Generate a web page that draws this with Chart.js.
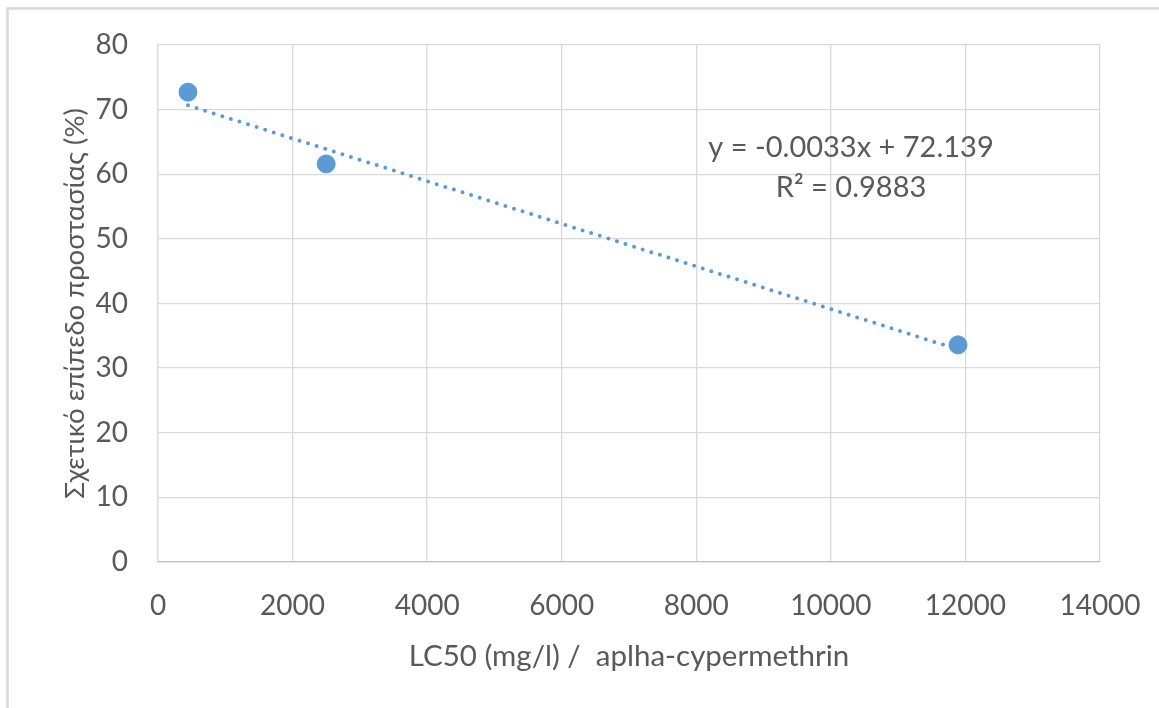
<!DOCTYPE html>
<html>
<head>
<meta charset="utf-8">
<script src="https://cdn.jsdelivr.net/npm/chart.js@4/dist/chart.umd.min.js"></script>
<style>
  html, body { margin: 0; padding: 0; background: #fff; }
  #wrap { position: relative; width: 1159px; height: 708px; }
</style>
</head>
<body>
<div id="wrap"><canvas id="chart"></canvas></div>
<script>
// values
const lc50 = [445, 2500, 11890];
const protection = [72.7, 61.6, 33.6];
// excel linear trendline end points (y = -0.0033x + 72.139)
const trendX = [445, 11890];
const trendY = [70.67, 32.9];
const xTicks = [0, 2000, 4000, 6000, 8000, 10000, 12000, 14000];
const yTicks = [0, 10, 20, 30, 40, 50, 60, 70, 80];
const eqLines = ["y = -0.0033x + 72.139", "R² = 0.9883"];

const blue = "#5b9bd5";
const grey = "#595959";
const fontFam = "Lato, 'Noto Sans', sans-serif";

const frame = {
    id: "frame",
    beforeDraw(chart) {
        const ctx = chart.ctx;
        ctx.save();
        ctx.strokeStyle = "#d9d9d9";
        ctx.lineWidth = 2.5;
        ctx.strokeRect(7.5, 8.5, 1170, 720);
        ctx.restore();
    },
    afterDatasetsDraw(chart) {
        const ctx = chart.ctx;
        const x = chart.scales.x.getPixelForValue(10300);
        const y1 = chart.scales.y.getPixelForValue(64.1);
        const y2 = chart.scales.y.getPixelForValue(58.0);
        ctx.save();
        ctx.fillStyle = grey;
        ctx.font = "29px " + fontFam;
        ctx.textAlign = "center";
        ctx.textBaseline = "middle";
        ctx.fillText(eqLines[0], x, y1);
        ctx.fillText(eqLines[1], x, y2);
        ctx.restore();
    }
};

const $chart = document.getElementById("chart");
new Chart($chart.getContext("2d"), {
    type: "scatter",
    data: {
        datasets: [
            {
                label: "data",
                data: lc50.map((v, i) => ({ x: v, y: protection[i] })),
                backgroundColor: blue,
                borderColor: blue,
                pointRadius: 9,
                pointHoverRadius: 9,
                order: 1,
            },
            {
                label: "trend",
                type: "line",
                data: trendX.map((v, i) => ({ x: v, y: trendY[i] })),
                borderColor: blue,
                borderWidth: 4,
                borderDash: [0, 9],
                borderCapStyle: "round",
                pointRadius: 0,
                fill: false,
                order: 2,
            },
        ],
    },
    options: {
        responsive: true,
        maintainAspectRatio: false,
        animation: false,
        layout: { padding: { left: 0, right: 59, top: 45, bottom: 0 } },
        plugins: {
            legend: { display: false },
            tooltip: { enabled: false },
        },
        scales: {
            x: {
                type: "linear",
                min: 0,
                max: 14000,
                afterBuildTicks: (s) => { s.ticks = xTicks.map(v => ({ value: v })); },
                afterFit: (s) => {
                    s.height = 146;
                    s.paddingLeft = 0;
                    s.paddingRight = 0;
                },
                grid: { color: "#d9d9d9", lineWidth: 1.3, drawTicks: false },
                border: { color: "#bfbfbf", width: 1.3 },
                ticks: {
                    color: grey,
                    font: { family: fontFam, size: 28 },
                    padding: 27,
                    maxRotation: 0,
                    autoSkip: false,
                    callback: (v) => String(v),
                },
                title: {
                    display: true,
                    text: "LC50 (mg/l) /  aplha-cypermethrin",
                    color: grey,
                    font: { family: fontFam, size: 29.5 },
                    padding: { top: 34, bottom: 34 },
                },
            },
            y: {
                type: "linear",
                min: 0,
                max: 80,
                afterBuildTicks: (s) => { s.ticks = yTicks.map(v => ({ value: v })); },
                afterFit: (s) => {
                    s.width = 158;
                    s.paddingTop = 0;
                    s.paddingBottom = 0;
                },
                grid: { color: "#d9d9d9", lineWidth: 1.3, drawTicks: false },
                border: { color: "#d9d9d9", width: 1.3 },
                ticks: {
                    color: grey,
                    font: { family: fontFam, size: 28 },
                    padding: 30,
                    callback: (v) => String(v),
                },
                title: {
                    display: true,
                    text: "Σχετικό επίπεδο προστασίας (%)",
                    color: grey,
                    font: { family: fontFam, size: 27.5 },
                    padding: { top: 59, bottom: 59 },
                },
            },
        },
    },
    plugins: [frame],
});
</script>
</body>
</html>
